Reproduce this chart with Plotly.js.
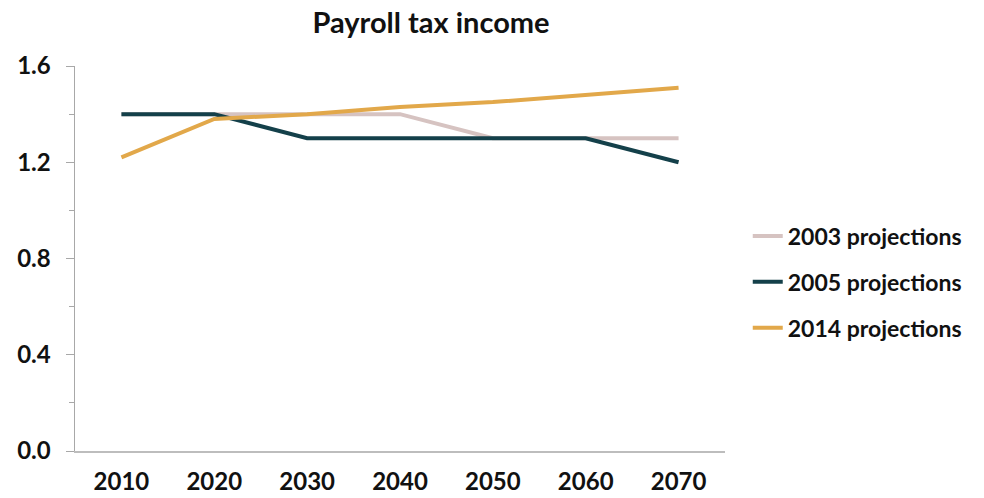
<!DOCTYPE html>
<html><head><meta charset="utf-8">
<script src="https://cdn.plot.ly/plotly-3.0.1.min.js"></script>
<style>body{margin:0;padding:0;background:#fff}#chart{width:984px;height:498px}</style>
</head><body><div id="chart"></div>
<script>
const years = ['2010','2020','2030','2040','2050','2060','2070'];
const proj2003 = [1.4, 1.4, 1.4, 1.4, 1.3, 1.3, 1.3];
const proj2005 = [1.4, 1.4, 1.3, 1.3, 1.3, 1.3, 1.2];
const proj2014 = [1.22, 1.38, 1.40, 1.43, 1.45, 1.48, 1.51];
const seriesNames = ['2003 projections','2005 projections','2014 projections'];
const colors = ['#d6c3c1','#14404a','#e2a84a'];
const yTickVals = [0, 0.4, 0.8, 1.2, 1.6];
const yTickText = ['0.0','0.4','0.8','1.2','1.6'];

const font = 'Lato, "Open Sans", sans-serif';
const traces = [proj2003, proj2005, proj2014].map((v,i)=>({
  x: years, y: v, type:'scatter', mode:'lines', name: seriesNames[i], legendgroup:'g'+i,
  line:{color:colors[i], width:4}
}));
const layout = {
  width:984, height:498,
  margin:{l:75, r:259, t:66, b:47},
  paper_bgcolor:'#fff', plot_bgcolor:'#fff',
  font:{family:font, color:'#111', size:20},
  title:{text:'<b>Payroll tax income</b>', font:{family:font, size:29, color:'#111'},
         x:0.438, xref:'container', xanchor:'center', y:0.955, yref:'container', yanchor:'middle'},
  xaxis:{type:'category', range:[-0.5,6.5], showgrid:false, zeroline:false,
         showline:true, linecolor:'#bdbdbd', linewidth:2, ticks:'',
         tickfont:{family:font, size:24, color:'#111', weight:'bold'}, ticklabelstandoff:8},
  yaxis:{range:[0,1.6], showgrid:false, zeroline:false, showline:true, linecolor:'#a8a8a8', linewidth:1.5,
         tickvals:yTickVals, ticktext:yTickText, ticks:'outside', ticklen:8, tickcolor:'#a8a8a8',
         ticklabelstandoff:10,
         tickfont:{family:font, size:24, color:'#111', weight:'bold'},
         minor:{dtick:0.2, ticks:'outside', ticklen:5, tickcolor:'#a8a8a8'}},
  legend:{x:1.035, xanchor:'left', y:0.439, yanchor:'middle', tracegroupgap:13,
          font:{family:font, size:23, color:'#111', weight:'bold'}, itemwidth:30, bgcolor:'rgba(0,0,0,0)'},
  showlegend:true
};
Plotly.newPlot('chart', traces, layout, {displayModeBar:false, staticPlot:true});
</script></body></html>
